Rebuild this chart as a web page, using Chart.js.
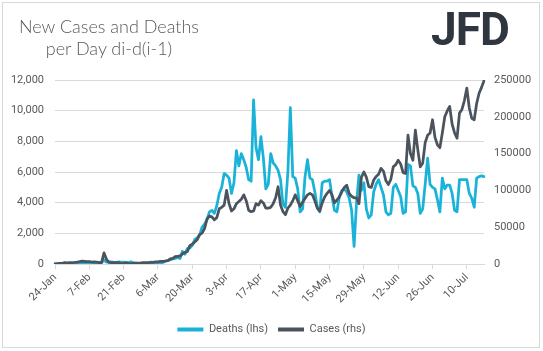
<!DOCTYPE html>
<html>
<head>
<meta charset="utf-8">
<script src="https://cdn.jsdelivr.net/npm/chart.js@4.4.1/dist/chart.umd.min.js"></script>
<style>
  html, body { margin: 0; padding: 0; background: #fff; }
  #wrap { position: relative; width: 543px; height: 351px; overflow: hidden; }
  #frame { position: absolute; left: 2px; top: 2px; width: 536px; height: 344px; border: 1px solid #d9d9d9; pointer-events: none; }
  #title { position: absolute; left: 9px; top: 15px; width: 200px; text-align: center; font-family: Lato, "Open Sans", sans-serif; font-weight: 300; font-size: 18px; line-height: 22px; color: #595959; }
  #logo { position: absolute; left: 431px; top: 2px; font-family: Roboto, sans-serif; font-weight: 700; font-size: 46px; letter-spacing: -1px; color: #2f3640; }
  canvas { position: absolute; left: 0; top: 0; }
</style>
</head>
<body>
<div id="wrap">
  <canvas id="myChart" width="543" height="351"></canvas>
  <div id="title">New Cases and Deaths<br>per Day di-d(i-1)</div>
  <div id="logo">JFD</div>
  <div id="frame"></div>
</div>
<script>
// daily values from 24-Jan to 17-Jul
const months = ['Jan', 'Feb', 'Mar', 'Apr', 'May', 'Jun', 'Jul'];
const tickEvery = 14;

const deaths = [
    10, 16, 15, 26, 49, 5, 38, 42,
    46, 45, 57, 65, 66, 72, 73, 86,
    89, 97, 108, 97, 254, 121, 143, 142,
    106, 98, 139, 115, 118, 109, 97, 150,
    71, 52, 29, 44, 47, 35, 42, 31,
    38, 31, 30, 41, 100, 200, 240, 270,
    330, 360, 430, 350, 830, 640, 1000, 1050,
    1200, 1600, 1700, 1900, 2400, 2600, 2900, 3400,
    3500, 3300, 3800, 4600, 5000, 5900, 5800, 5600,
    4600, 5300, 7400, 6400, 7200, 6800, 6300, 5500,
    5400, 10700, 7600, 6800, 8300, 6900, 4900, 5200,
    7200, 6600, 6400, 6100, 5500, 3900, 3700, 6000,
    10200, 5700, 5600, 4900, 3400, 3600, 5700, 6800,
    5600, 5500, 4700, 3700, 3400, 5300, 5400, 5400,
    5500, 4400, 3500, 3400, 4400, 4800, 4900, 4700,
    4300, 3500, 1150, 4000, 5800, 4800, 5300, 3600,
    3000, 3200, 4700, 5200, 5500, 5000, 4500, 3400,
    3200, 3300, 5000, 5200, 4800, 4400, 3300, 3400,
    6500, 6400, 5100, 5000, 4600, 3300, 3600, 5200,
    6900, 5200, 5000, 4900, 4200, 3400, 5600, 4900,
    5150, 5150, 4600, 3500, 3400, 5500, 5500, 5500,
    5500, 4600, 4300, 3700, 5600, 5700, 5750, 5700
];

const cases = [
    300, 500, 700, 800, 1800, 1500, 1750, 2000,
    2100, 2600, 3200, 3900, 3700, 3200, 3400, 2700,
    3000, 2600, 2000, 1900, 15100, 6500, 2100, 2000,
    1900, 1800, 1900, 600, 1000, 1600, 900, 600,
    850, 1100, 1300, 1400, 1800, 1800, 1800, 2400,
    2200, 2800, 2900, 3700, 3600, 3900, 4400, 7000,
    7500, 10000, 10500, 11000, 13800, 15500, 17000, 25000,
    27000, 30000, 33000, 40000, 42000, 48000, 61000, 65000,
    64000, 60000, 63000, 75000, 77000, 80000, 100000, 82000,
    72000, 75000, 82000, 85000, 88000, 94000, 86000, 73000,
    71000, 72000, 82000, 80000, 86000, 83000, 76000, 76000,
    77000, 82000, 90000, 105000, 80000, 71000, 67000, 76000,
    80000, 86000, 94000, 86000, 78000, 84000, 89000, 94000,
    96000, 94000, 86000, 76000, 72000, 83000, 91000, 96000,
    100000, 94000, 83000, 87000, 91000, 98000, 104000, 107000,
    96000, 92000, 90000, 90000, 82000, 118000, 125000, 118000,
    105000, 104000, 114000, 119000, 122000, 130000, 126000, 113000,
    108000, 115000, 132000, 135000, 141000, 136000, 124000, 123000,
    175000, 150000, 141000, 182000, 155000, 132000, 137000, 165000,
    175000, 178000, 196000, 172000, 162000, 158000, 178000, 200000,
    208000, 214000, 190000, 178000, 171000, 205000, 210000, 222000,
    239000, 212000, 198000, 196000, 218000, 232000, 240000, 249000
];

const labels = [];
for (let i = 0; i < deaths.length; i++) {
    const d = new Date(2020, 0, 24 + i);
    labels.push(d.getDate() + '-' + months[d.getMonth()]);
}

const cyan = '#19b2d8';
const slate = '#4b535d';
const textGrey = '#595959';
const gridGrey = '#d9d9d9';
const axisFont = { family: 'Roboto', size: 11 };

var ctx = document.getElementById('myChart').getContext('2d');
var myChart = new Chart(ctx, {
    type: 'line',
    data: {
        labels: labels,
        datasets: [
            {
                label: 'Deaths (lhs)',
                data: deaths,
                yAxisID: 'y',
                borderColor: cyan,
                backgroundColor: cyan,
                borderWidth: 2.75,
                pointRadius: 0,
                borderJoinStyle: 'round',
                borderCapStyle: 'round',
                order: 1
            },
            {
                label: 'Cases (rhs)',
                data: cases,
                yAxisID: 'y1',
                borderColor: slate,
                backgroundColor: slate,
                borderWidth: 2.75,
                pointRadius: 0,
                borderJoinStyle: 'round',
                borderCapStyle: 'round',
                order: 0
            }
        ]
    },
    options: {
        responsive: false,
        animation: false,
        devicePixelRatio: 1,
        layout: { padding: { top: 80, left: 0, right: 0, bottom: 6 } },
        plugins: {
            tooltip: { enabled: false },
            legend: {
                position: 'bottom',
                labels: {
                    boxWidth: 26,
                    boxHeight: 4,
                    padding: 10,
                    color: textGrey,
                    font: axisFont,
                    generateLabels: chart => chart.data.datasets.map((ds, i) => ({
                        text: ds.label,
                        fillStyle: ds.borderColor,
                        strokeStyle: ds.borderColor,
                        lineWidth: 0,
                        hidden: false,
                        datasetIndex: i,
                        fontColor: textGrey
                    }))
                }
            }
        },
        scales: {
            x: {
                offset: false,
                grid: { drawOnChartArea: false, drawTicks: true, tickLength: 5, color: gridGrey },
                border: { color: gridGrey },
                ticks: {
                    autoSkip: false,
                    minRotation: 45,
                    maxRotation: 45,
                    padding: 2,
                    color: textGrey,
                    font: axisFont,
                    callback: function (v, i) {
                        return i % tickEvery === 0 ? this.getLabelForValue(v) : null;
                    }
                },
                afterFit: s => { s.height = 50; }
            },
            y: {
                position: 'left',
                min: 0,
                max: 12000,
                grid: { color: gridGrey, drawTicks: false },
                border: { display: false },
                ticks: {
                    stepSize: 2000,
                    padding: 11,
                    color: textGrey,
                    font: axisFont,
                    callback: v => v.toLocaleString('en-US')
                },
                afterFit: s => { s.width = 55; }
            },
            y1: {
                position: 'right',
                min: 0,
                max: 250000,
                grid: { drawOnChartArea: false, drawTicks: false },
                border: { display: false },
                ticks: {
                    stepSize: 50000,
                    padding: 10,
                    color: textGrey,
                    font: axisFont,
                    callback: v => String(v)
                },
                afterFit: s => { s.width = 59; }
            }
        }
    }
});
</script>
</body>
</html>
